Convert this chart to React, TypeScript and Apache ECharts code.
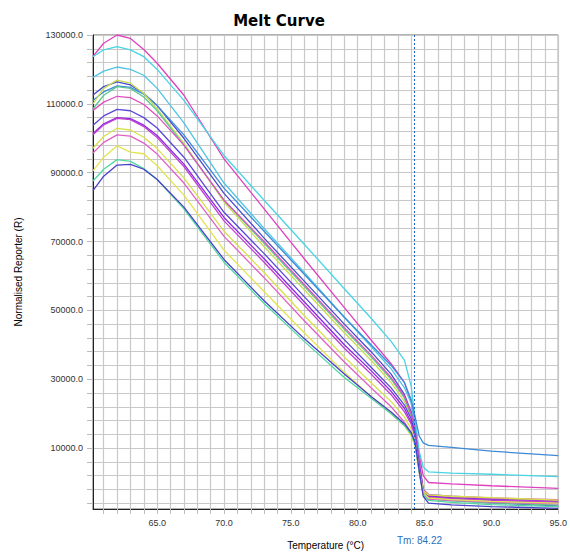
import React, { useEffect, useRef } from "react";
import * as echarts from "echarts";

// Temperatures (°C) at which each curve is sampled
const temps = [60.2, 61, 62, 63, 64, 65, 67, 70, 73, 76, 79, 81, 82.5, 83.5, 84, 84.3, 84.6, 84.9, 85.3, 87, 90, 95];

// Normalised reporter values for each well
const c1 = [123800, 127600, 130000, 129000, 125800, 121800, 112500, 94000, 79500, 65000, 50800, 41400, 34500, 29000, 23500, 17000, 8000, 2000, 0, -400, -950, -1700];
const c2 = [123700, 125700, 126600, 125700, 123700, 120000, 111000, 95000, 82000, 69200, 56300, 47700, 41000, 35500, 28000, 18000, 9000, 4500, 3100, 2700, 2400, 1700];
const c3 = [117700, 119500, 120700, 120000, 118300, 114500, 104500, 87000, 73800, 61000, 48000, 39500, 33000, 27500, 23000, 16000, 6000, -2000, -3500, -4000, -4600, -5400];
const c4 = [112600, 115000, 116400, 115500, 113000, 109500, 100000, 84000, 71000, 58500, 46000, 38000, 31500, 25500, 20500, 15000, 6000, -2500, -4500, -5200, -5900, -6800];
const c5 = [111000, 113500, 115200, 114800, 112800, 109500, 101000, 85500, 73000, 60500, 48000, 40000, 34000, 29000, 24000, 19000, 13500, 11500, 10800, 10200, 9100, 7800];
const c6 = [110000, 114500, 116900, 116000, 113000, 108500, 98500, 81500, 68500, 56000, 43500, 35500, 29000, 23500, 19000, 14000, 5000, -2500, -3800, -4300, -4800, -5300];
const c7 = [108500, 112500, 115000, 114500, 112000, 108000, 98000, 82000, 69500, 57000, 44500, 36500, 30000, 24500, 19500, 14500, 5500, -3000, -4800, -5300, -5900, -6600];
const c8 = [108100, 110500, 112200, 111800, 109800, 106500, 98000, 82000, 70000, 57500, 45000, 37000, 30500, 25000, 20000, 15000, 6500, -2000, -3500, -4000, -4500, -5000];
const c9 = [103800, 106500, 108400, 108000, 106000, 103000, 94500, 78500, 66500, 54000, 41500, 33500, 27500, 22500, 18500, 14000, 5000, -2500, -4000, -4600, -5200, -5800];
const c10 = [101400, 104200, 106000, 105700, 103800, 100800, 92500, 77000, 65000, 52500, 40000, 32500, 26500, 21500, 17500, 13500, 4500, -3000, -4000, -4400, -4900, -5400];
const c11 = [101000, 103900, 105800, 105400, 103400, 100200, 91800, 76000, 64000, 51500, 39000, 31500, 25500, 20500, 17000, 13000, 4000, -3200, -4300, -4700, -5100, -5600];
const c12 = [97100, 100500, 102900, 102400, 100300, 97000, 88500, 73000, 61000, 48500, 36500, 29000, 23500, 19000, 15500, 11500, 3500, -2500, -3600, -4000, -4400, -5100];
const c13 = [95700, 98800, 101000, 100600, 98600, 95400, 87000, 71500, 59500, 47000, 35000, 27500, 22000, 17500, 14500, 11000, 3000, -3500, -4800, -5200, -5700, -6200];
const c14 = [90500, 94500, 97800, 96000, 95500, 92000, 83500, 67500, 55500, 43500, 32000, 25000, 20000, 16500, 13500, 10500, 3000, -3000, -4500, -5000, -5500, -6000];
const c15 = [87600, 91000, 93800, 93300, 91200, 88000, 79500, 64000, 52000, 41000, 30500, 24500, 20000, 16500, 14000, 11000, 3000, -3500, -5200, -5800, -6400, -7000];
const c16 = [84800, 89000, 92200, 92400, 91000, 88000, 80000, 64800, 52800, 41800, 31500, 25000, 20500, 17000, 14500, 11500, 3500, -4000, -6000, -6500, -7000, -7500];

const curves = [c1, c2, c3, c4, c5, c6, c7, c8, c9, c10, c11, c12, c13, c14, c15, c16];
const curveColors = [
  "#e040c0", "#48d4e4", "#50c4e4", "#4a4ad0", "#3c8ad8", "#c8dc50", "#5cc890", "#e050c0",
  "#5a48d8", "#8a2be2", "#c040d0", "#d8e04a", "#e060c8", "#e4e450", "#50d8a0", "#4a40c8",
];

// Axis ticks and labels
const xTickValues = [61, 62, 63, 64, 65, 66, 67, 68, 69, 70, 71, 72, 73, 74, 75, 76, 77, 78, 79, 80, 81, 82, 83, 84, 85, 86, 87, 88, 89, 90, 91, 92, 93, 94, 95];
const xLabelValues = [65, 70, 75, 80, 85, 90, 95];
const yTickValues = [-6000, -2000, 2000, 6000, 10000, 14000, 18000, 22000, 26000, 30000, 34000, 38000, 42000, 46000, 50000, 54000, 58000, 62000, 66000, 70000, 74000, 78000, 82000, 86000, 90000, 94000, 98000, 102000, 106000, 110000, 114000, 118000, 122000, 126000, 130000];
const yLabelValues = [10000, 30000, 50000, 70000, 90000, 110000, 130000];
const tmValue = 84.22;

export default function App() {
  const ref = useRef<HTMLDivElement>(null);
  useEffect(() => {
    if (!ref.current) return;
    const chart = echarts.init(ref.current, null, { renderer: "svg" });
    const font = "'Liberation Sans', Arial, sans-serif";
    const series: any[] = curves.map((vals, idx) => ({
      type: "line",
      data: temps.map((t, i) => [t, vals[i]]),
      showSymbol: false,
      symbol: "none",
      lineStyle: { width: 1.3, color: curveColors[idx] },
      itemStyle: { color: curveColors[idx] },
      silent: true,
      z: 3,
    }));
    series[0].markLine = {
      silent: true,
      symbol: ["none", "none"],
      label: { show: false },
      lineStyle: { color: "#1f5fbf", type: [2, 2], width: 1 },
      data: [{ xAxis: tmValue }],
    };
    chart.setOption({
      animation: false,
      backgroundColor: "#ffffff",
      title: {
        text: "Melt Curve",
        left: 274,
        top: 8,
        textAlign: "center",
        textStyle: { fontFamily: "'DejaVu Sans', sans-serif", fontSize: 15, fontWeight: "bold", color: "#000" },
      },
      grid: {
        left: 93,
        top: 35,
        right: 3,
        bottom: 38,
        show: true,
        borderColor: "#666",
        borderWidth: 1,
        backgroundColor: "#fff",
      },
      xAxis: {
        type: "value",
        min: 60.2,
        max: 95,
        name: "Temperature (°C)",
        nameLocation: "middle",
        nameGap: 31,
        nameTextStyle: { fontFamily: font, fontSize: 10, color: "#000" },
        axisLine: { show: true, onZero: false, lineStyle: { color: "#222", width: 1 } },
        axisTick: { show: true, length: 5, customValues: xTickValues, lineStyle: { color: "#bbb" } },
        axisLabel: {
          customValues: xLabelValues,
          formatter: (v: number) => v.toFixed(1),
          fontFamily: font,
          fontSize: 9,
          color: "#333",
          margin: 9,
        },
        splitLine: { show: true, lineStyle: { color: "#c8c8c8", width: 1.2 } },
      },
      yAxis: {
        type: "value",
        min: -7700,
        max: 130000,
        name: "Normalised Reporter (R)",
        nameLocation: "middle",
        nameGap: 70,
        nameTextStyle: { fontFamily: font, fontSize: 10, color: "#000" },
        axisLine: { show: true, onZero: false, lineStyle: { color: "#222", width: 1 } },
        axisTick: { show: true, length: 6, customValues: yTickValues, lineStyle: { color: "#bbb" } },
        axisLabel: {
          customValues: yLabelValues,
          formatter: (v: number) => v.toFixed(1),
          fontFamily: font,
          fontSize: 9,
          color: "#333",
          margin: 10,
        },
        splitLine: { show: true, lineStyle: { color: "#c8c8c8", width: 1.2 } },
      },
      graphic: [
        {
          type: "text",
          left: 397,
          top: 535,
          style: { text: "Tm: " + tmValue.toFixed(2), fill: "#2a6fc0", font: "10px 'Liberation Sans', Arial, sans-serif" },
        },
      ],
      series,
    });
    return () => chart.dispose();
  }, []);
  return (
    <div
      ref={ref}
      style={{ position: "fixed", left: 0, top: 0, width: 570, height: 555 }}
    />
  );
}
